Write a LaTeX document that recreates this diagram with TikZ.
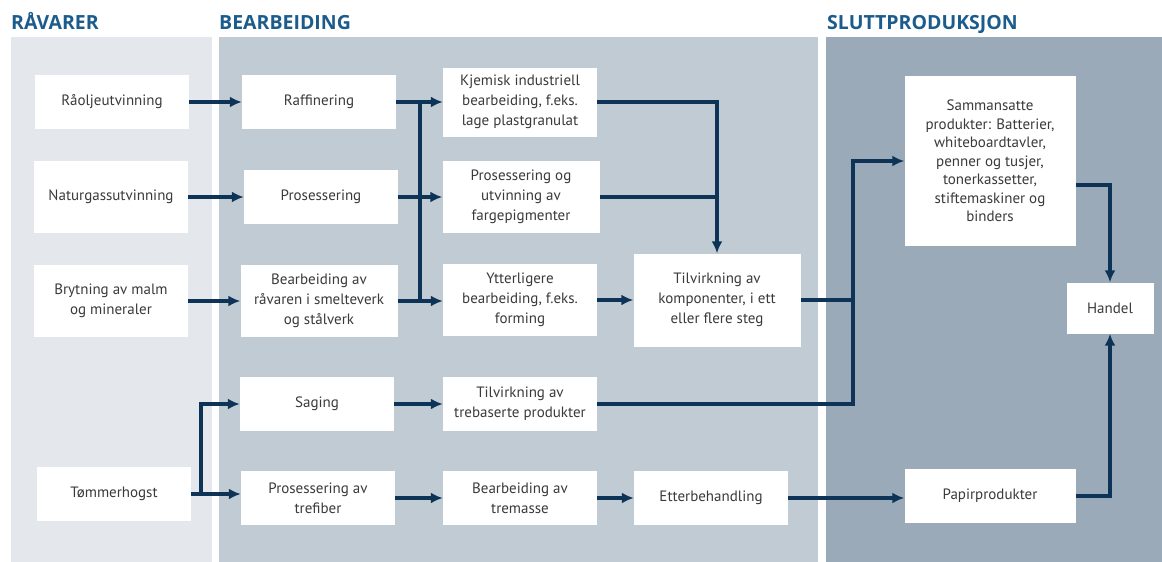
\documentclass[tikz,border=0pt]{standalone}
\usepackage{fontspec}
\setmainfont{PT Sans}
\newfontfamily\stagefont{Open Sans}
\usetikzlibrary{arrows.meta}

\definecolor{rawbg}{HTML}{E4E8ED}
\definecolor{procbg}{HTML}{C1CBD4}
\definecolor{finalbg}{HTML}{9BAAB9}
\definecolor{headblue}{HTML}{1C5C8C}
\definecolor{flowblue}{HTML}{0D3457}
\definecolor{boxtext}{HTML}{3A3A3A}

\begin{document}
\begin{tikzpicture}[x=1pt, y=-1pt, >={Latex[length=12pt,width=11pt]}]
      \tikzset{
  stage/.style={
    text=headblue,
    anchor=base west,
    inner sep=0pt,
    font=\stagefont\fontsize{19.5}{24}\selectfont\bfseries
  },
  every step/.style={
    fill=white,
    text=boxtext,
    align=center,
    inner sep=0pt,
    minimum width=154pt,
    minimum height=54pt,
    font=\fontsize{15}{20}\selectfont
  },
  step tall/.style={
    minimum height=72pt
  },
  flow/.style={
    draw=flowblue,
    line width=3.2pt
  }
}

\useasboundingbox (0,0) rectangle (1162,562);

% panels
\fill [rawbg] (11,37) rectangle (212,562);
\fill [procbg] (219,37) rectangle (818,562);
\fill [finalbg] (826,37) rectangle (1162,562);

\node [stage] (stage-raw) at (11,29) {RÅVARER};
\node [stage] (stage-proc) at (219,29) {BEARBEIDING};
\node [stage] (stage-final) at (827,29) {SLUTTPRODUKSJON};

% raavarer
\node [every step/.try] (raaolje) at (112,102) {Råoljeutvinning};
\node [every step/.try, step tall/.try] (naturgass) at (111,197) {Naturgassutvinning};
\node [every step/.try, step tall/.try] (brytning) at (111,301) {Brytning av malm\\og mineraler};
\node [every step/.try] (tommer) at (114,494) {Tømmerhogst};

% bearbeiding
\node [every step/.try] (raffinering) at (319,102) {Raffinering};
\node [every step/.try] (prosessering) at (321,197) {Prosessering};
\node [every step/.try, step tall/.try, minimum width=157pt] (smelteverk) at (319,301) {Bearbeiding av\\råvaren i smelteverk\\og stålverk};
\node [every step/.try] (saging) at (317,404) {Saging};
\node [every step/.try] (trefiber) at (318,498) {Prosessering av\\trefiber};

\node [every step/.try, minimum height=69pt] (kjemisk) at (520,102) {Kjemisk industriell\\bearbeiding, f.eks.\\lage plastgranulat};
\node [every step/.try, step tall/.try, minimum width=157pt] (pigment) at (521,197) {Prosessering og\\utvinning av\\fargepigmenter};
\node [every step/.try, step tall/.try] (forming) at (520,300) {Ytterligere\\bearbeiding, f.eks.\\forming};
\node [every step/.try] (trebasert) at (520,404) {Tilvirkning av\\trebaserte produkter};
\node [every step/.try] (tremasse) at (520,498) {Bearbeiding av\\tremasse};

\node [every step/.try, minimum width=167pt, minimum height=93pt] (komponent) at (717,300) {Tilvirkning av\\komponenter, i ett\\eller flere steg};
\node [every step/.try] (etterbeh) at (711,498) {Etterbehandling};

% sluttproduksjon
\node [every step/.try, minimum width=171pt, minimum height=170pt, font=\fontsize{15}{18.5}\selectfont] (sammensatt) at (990,161) {Sammansatte\\produkter: Batterier,\\whiteboardtavler,\\penner og tusjer,\\tonerkassetter,\\stiftemaskiner og\\binders};
\node [every step/.try, minimum width=171pt] (papir) at (990,496) {Papirprodukter};
\node [every step/.try, minimum width=87pt, minimum height=51pt] (handel) at (1110,308) {Handel};

% knutepunkter
\coordinate (bus-top) at (420,102);
\coordinate (bus-bot) at (420,301);
\coordinate (rise) at (853,404);
\coordinate (split) at (201,494);

\foreach \a/\b in {raaolje/raffinering, naturgass/prosessering, brytning/smelteverk,
                   saging/trebasert, trefiber/tremasse, tremasse/etterbeh,
                   etterbeh/papir, forming/komponent}
  \draw [flow, ->] (\a.east) -- (\a.east -| \b.west);

\draw [flow] (bus-top) -- (bus-bot);
\foreach \a/\b in {raffinering/kjemisk, prosessering/pigment, smelteverk/forming}
  \draw [flow, ->] (\a.east) -- (\a.east -| \b.west);

\draw [flow, ->] (kjemisk.east) -| (komponent.north);
\draw [flow] (pigment.east) -- (pigment.east -| komponent.north);

\draw [flow, ->] (trebasert.east) -- (rise) |- (sammensatt.west);
\draw [flow] (komponent.east) -- (komponent.east -| rise);

\draw [flow] (tommer.east) -- (split);
\draw [flow, ->] (split) |- (saging.west);
\draw [flow, ->] (split) -- (split -| trefiber.west);

\draw [flow, ->] ([yshift=-24pt]sammensatt.east) -| (handel.north);
\draw [flow, ->] (papir.east) -| (handel.south);
    \end{tikzpicture}
\end{document}
